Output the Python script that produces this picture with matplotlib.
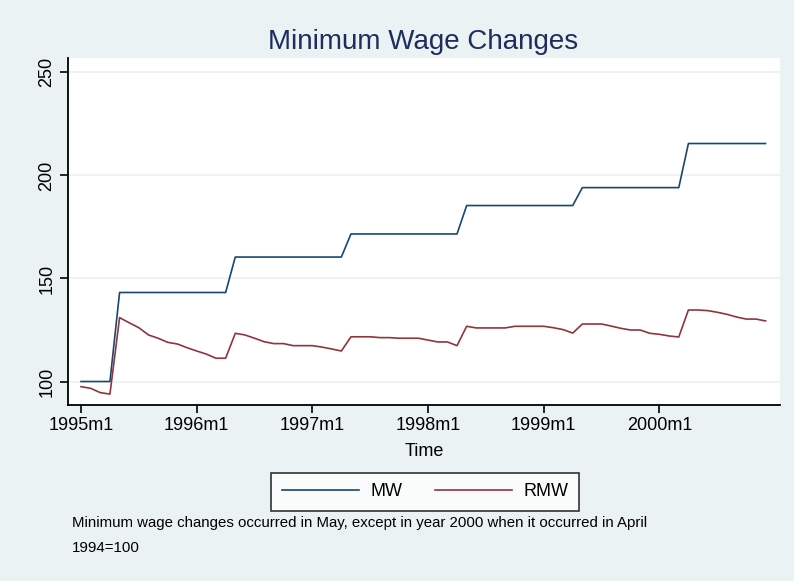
import matplotlib
matplotlib.use("Agg")
import matplotlib.pyplot as plt
from matplotlib.lines import Line2D

plt.rcParams['font.family'] = ['Liberation Sans', 'DejaVu Sans']

years = [1995, 1996, 1997, 1998, 1999, 2000]
tick_labels = [f"{y}m1" for y in years]

mw = [100, 100, 100, 100, 143.2, 143.2, 143.2, 143.2, 143.2, 143.2, 143.2, 143.2,
      143.2, 143.2, 143.2, 143.2, 160.4, 160.4, 160.4, 160.4, 160.4, 160.4, 160.4, 160.4,
      160.4, 160.4, 160.4, 160.4, 171.6, 171.6, 171.6, 171.6, 171.6, 171.6, 171.6, 171.6,
      171.6, 171.6, 171.6, 171.6, 185.4, 185.4, 185.4, 185.4, 185.4, 185.4, 185.4, 185.4,
      185.4, 185.4, 185.4, 185.4, 194.1, 194.1, 194.1, 194.1, 194.1, 194.1, 194.1, 194.1,
      194.1, 194.1, 194.1, 215.5, 215.5, 215.5, 215.5, 215.5, 215.5, 215.5, 215.5, 215.5]

rmw = [97.5, 96.7, 94.6, 93.9, 131.0, 128.5, 126.1, 122.6, 121.0, 119.0, 118.2, 116.4,
       114.8, 113.3, 111.3, 111.3, 123.4, 122.6, 121.0, 119.3, 118.4, 118.4, 117.4, 117.4,
       117.4, 116.7, 115.8, 114.8, 121.7, 121.7, 121.7, 121.3, 121.3, 121.0, 121.0, 121.0,
       120.1, 119.2, 119.2, 117.4, 126.8, 126.0, 126.0, 126.0, 126.0, 126.8, 126.8, 126.8,
       126.8, 126.1, 125.2, 123.5, 127.9, 127.9, 127.9, 126.9, 125.8, 125.0, 125.0, 123.4,
       122.9, 122.1, 121.6, 134.7, 134.7, 134.4, 133.6, 132.6, 131.3, 130.3, 130.3, 129.4]

months = list(range(len(mw)))

BG = '#EAF2F3'
fig = plt.figure(figsize=(7.94, 5.81), dpi=100, facecolor=BG)
ax = fig.add_axes([68/794, 1-405/581, (780-68)/794, (405-58)/581])
ax.set_facecolor('white')

ax.plot(months, mw, color='#1A476F', lw=1.2, label='MW')
ax.plot(months, rmw, color='#90353B', lw=1.2, label='RMW')

ax.set_xlim(-1.35, 72.5)
ax.set_ylim(88.6, 257)
ax.set_yticks([100, 150, 200, 250])
ax.set_yticklabels(['100', '150', '200', '250'], rotation=90, va='center', fontsize=13)
ax.set_xticks([12*i for i in range(len(years))])
ax.set_xticklabels(tick_labels, fontsize=13)
ax.grid(axis='y', color=BG, lw=1.2)
ax.set_axisbelow(True)
for s in ['top', 'right']:
    ax.spines[s].set_visible(False)
for s in ['left', 'bottom']:
    ax.spines[s].set_linewidth(1.3)
ax.tick_params(direction='out', length=6, width=1.2, colors='black', pad=3)
ax.set_xlabel('Time', fontsize=13, labelpad=6)

fig.text(423/794, 1-42/581, 'Minimum Wage Changes', ha='center', va='center',
         fontsize=20, color='#1E2D5E')

handles = [Line2D([], [], color='#1A476F', lw=1.2), Line2D([], [], color='#90353B', lw=1.2)]
leg = fig.legend(handles, ['MW', 'RMW'], loc='center', bbox_to_anchor=(425/794, 1-492/581),
                 ncol=2, fontsize=13, frameon=True, fancybox=False, handlelength=4.3,
                 columnspacing=1.8, handletextpad=0.6, borderpad=0.6)
leg.get_frame().set_edgecolor('black')
leg.get_frame().set_linewidth(1.2)

fig.text(72/794, 1-523/581, 'Minimum wage changes occurred in May, except in year 2000 when it occurred in April',
         fontsize=10.8, va='center', ha='left')
fig.text(72/794, 1-548/581, '1994=100', fontsize=10.8, va='center', ha='left')

fig.savefig('out.png', dpi=100, facecolor=BG)
